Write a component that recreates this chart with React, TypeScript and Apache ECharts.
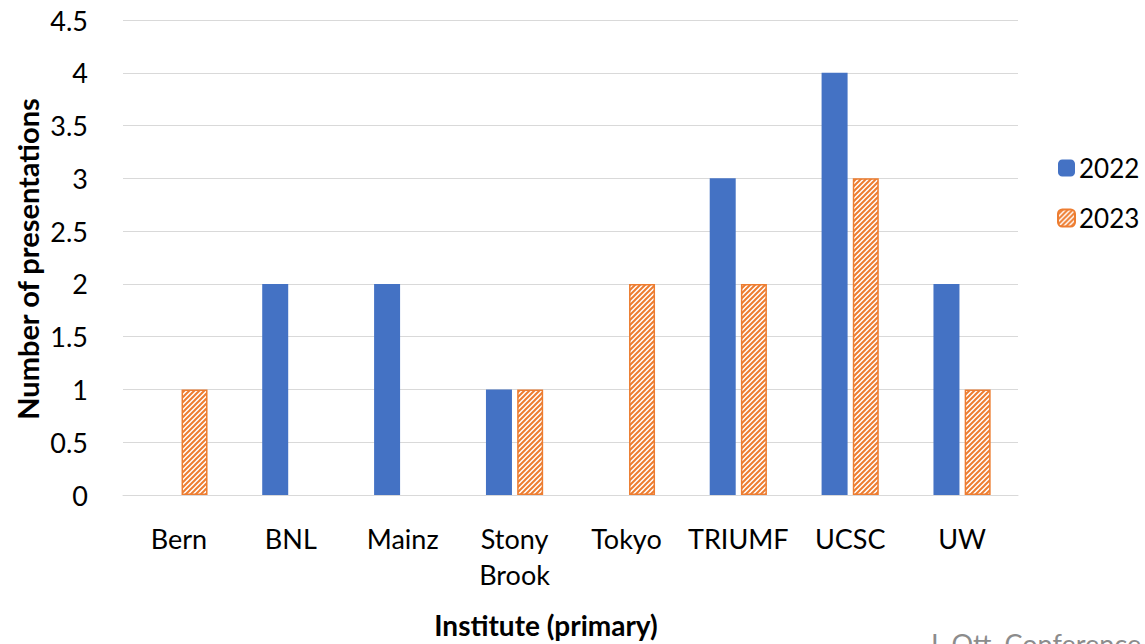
import React, { useEffect, useRef } from "react";
import * as echarts from "echarts";

const categories = ["Bern", "BNL", "Mainz", "Stony\nBrook", "Tokyo", "TRIUMF", "UCSC", "UW"];
const values2022 = [0, 2, 2, 1, 0, 3, 4, 2];
const values2023 = [1, 0, 0, 1, 2, 2, 3, 1];
const seriesNames = ["2022", "2023"];

const FONT = "Lato, 'Open Sans', sans-serif";

function makeHatch(): HTMLCanvasElement {
  const c = document.createElement("canvas");
  const s = 5;
  c.width = s;
  c.height = s;
  const ctx = c.getContext("2d")!;
  ctx.fillStyle = "#ffffff";
  ctx.fillRect(0, 0, s, s);
  ctx.strokeStyle = "#ED7D31";
  ctx.lineWidth = 2;
  ctx.beginPath();
  ctx.moveTo(-1, s + 1);
  ctx.lineTo(s + 1, -1);
  ctx.moveTo(-1, 1);
  ctx.lineTo(1, -1);
  ctx.moveTo(s - 1, s + 1);
  ctx.lineTo(s + 1, s - 1);
  ctx.stroke();
  return c;
}

export default function App() {
  const ref = useRef<HTMLDivElement>(null);
  useEffect(() => {
    const chart = echarts.init(ref.current!, undefined, { renderer: "svg" });
    const hatch = { image: makeHatch(), repeat: "repeat" };
    const toData = (arr: number[]) => arr.map((v) => (v === 0 ? "-" : v));
    chart.setOption({
      animation: false,
      backgroundColor: "#ffffff",
      grid: { left: 123, right: 127, top: 20, bottom: 149 },
      legend: {
        orient: "vertical",
        left: 1052,
        top: 150,
        itemWidth: 17,
        itemHeight: 17,
        itemGap: 24,
        textStyle: { fontFamily: FONT, fontSize: 26, color: "#000", padding: [0, 0, 0, -1] },
        data: seriesNames,
      },
      xAxis: {
        type: "category",
        data: categories,
        axisLine: { lineStyle: { color: "#d9d9d9", width: 1 } },
        axisTick: { show: false },
        axisLabel: {
          fontFamily: FONT,
          fontSize: 27,
          color: "#000",
          margin: 25,
          lineHeight: 36,
          interval: 0,
        },
      },
      yAxis: {
        type: "value",
        min: 0,
        max: 4.5,
        interval: 0.5,
        axisLine: { show: false },
        axisTick: { show: false },
        splitLine: { lineStyle: { color: "#d9d9d9", width: 1 } },
        axisLabel: { fontFamily: FONT, fontSize: 27, color: "#000", margin: 35 },
      },
      series: [
        {
          name: seriesNames[0],
          type: "bar",
          data: toData(values2022),
          barWidth: 26,
          barGap: "20%",
          itemStyle: { color: "#4472C4" },
        },
        {
          name: seriesNames[1],
          type: "bar",
          data: toData(values2023),
          barWidth: 26,
          itemStyle: { color: hatch, borderColor: "#ED7D31", borderWidth: 1.5 },
        },
      ],
      graphic: [
        {
          type: "text",
          x: 27,
          y: 259,
          rotation: Math.PI / 2,
          style: {
            text: "Number of presentations",
            fontFamily: FONT,
            fontSize: 29,
            fontWeight: "bold",
            fill: "#000",
            align: "center",
            verticalAlign: "middle",
          },
        },
        {
          type: "text",
          x: 546,
          y: 625,
          style: {
            text: "Institute (primary)",
            fontFamily: FONT,
            fontSize: 28,
            fontWeight: "bold",
            fill: "#000",
            align: "center",
            verticalAlign: "middle",
          },
        },
        {
          type: "text",
          x: 927,
          y: 630,
          style: {
            text: "J. Ott, Conference",
            fontFamily: FONT,
            fontSize: 27,
            fill: "#8c8c8c",
            align: "left",
            verticalAlign: "top",
          },
        },
      ],
    });
    return () => chart.dispose();
  }, []);
  return (
    <div
      ref={ref}
      style={{ position: "absolute", left: 0, top: 0, width: 1145, height: 644 }}
    />
  );
}
